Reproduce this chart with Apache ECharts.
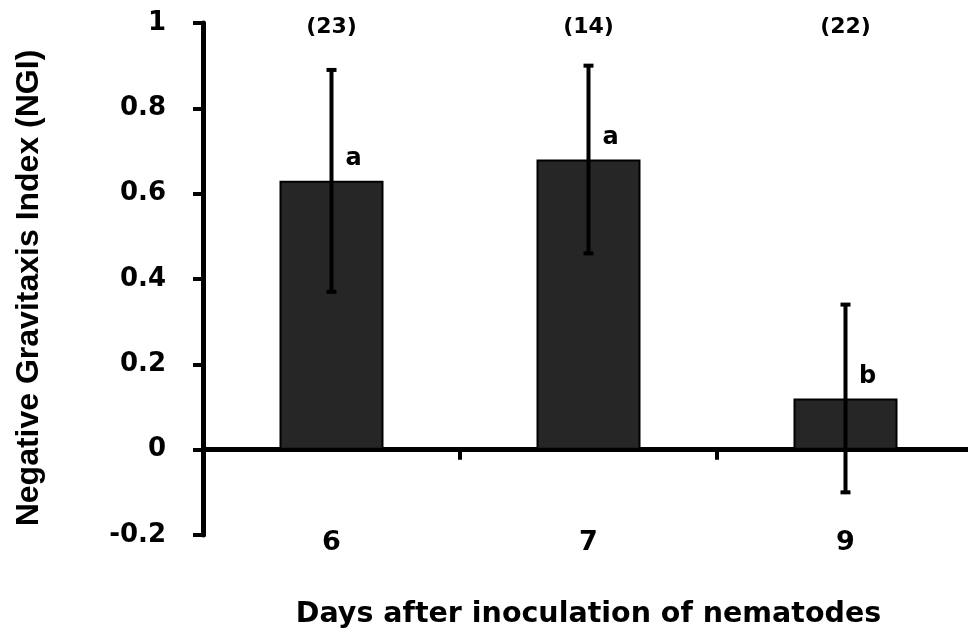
<!DOCTYPE html>
<html>
<head>
<meta charset="utf-8">
<title>Negative Gravitaxis Index</title>
<script src="https://cdn.jsdelivr.net/npm/echarts@6/dist/echarts.min.js"></script>
<style>
  html, body { margin: 0; padding: 0; background: #fff; }
  #chart { width: 968px; height: 636px; }
</style>
</head>
<body>
<div id="chart"></div>
<script>
// Days after inoculation (x categories)
const categories = ['6', '7', '9'];
// Mean NGI per day
const meanNGI = [0.63, 0.68, 0.12];
// Error half-widths per day
const errNGI = [0.26, 0.22, 0.22];
// Sample sizes shown above each bar
const sampleSizes = ['(23)', '(14)', '(22)'];
// Significance groups
const groupLetters = ['a', 'a', 'b'];
// Y axis range
const yMin = -0.2;
const yMax = 1;
const yStep = 0.2;

const numFont = 'DejaVu Sans';
const chart = echarts.init(document.getElementById('chart'), null, { renderer: 'canvas' });

const errorData = categories.map((c, i) => [i, meanNGI[i] + errNGI[i], meanNGI[i] - errNGI[i]]);
const topData = categories.map((c, i) => [i, yMax]);

function renderErrorBar(params, api) {
  const x = api.value(0);
  const hi = api.coord([x, api.value(1)]);
  const lo = api.coord([x, api.value(2)]);
  const cap = 5;
  const style = { stroke: '#000', lineWidth: 4 };
  return {
    type: 'group',
    children: [
      { type: 'line', shape: { x1: hi[0], y1: hi[1], x2: lo[0], y2: lo[1] }, style: style },
      { type: 'line', shape: { x1: hi[0] - cap, y1: hi[1], x2: hi[0] + cap, y2: hi[1] }, style: style },
      { type: 'line', shape: { x1: lo[0] - cap, y1: lo[1], x2: lo[0] + cap, y2: lo[1] }, style: style }
    ]
  };
}

chart.setOption({
  animation: false,
  backgroundColor: '#fff',
  grid: { left: 203, right: -6, top: 23, bottom: 101, containLabel: false, outerBoundsMode: 'none' },
  xAxis: {
    type: 'category',
    data: categories,
    name: 'Days after inoculation of nematodes',
    nameLocation: 'middle',
    nameGap: 65,
    nameTextStyle: { fontFamily: numFont, fontWeight: 'bold', fontSize: 28.5, color: '#000' },
    axisLine: { onZero: true, lineStyle: { color: '#000', width: 5 } },
    axisTick: { show: true, alignWithLabel: false, length: 10, lineStyle: { color: '#000', width: 4 } },
    axisLabel: { margin: -6, fontFamily: numFont, fontWeight: 'bold', fontSize: 27, color: '#000' },
    splitLine: { show: false }
  },
  yAxis: {
    type: 'value',
    min: yMin,
    max: yMax,
    interval: yStep,
    name: 'Negative Gravitaxis Index (NGI)',
    nameLocation: 'middle',
    nameRotate: 90,
    nameGap: 158,
    nameTextStyle: {
      fontFamily: 'Liberation Sans', fontWeight: 'bold', fontSize: 32, color: '#000',
      padding: [0, 18, 0, 0]
    },
    axisLine: { show: true, lineStyle: { color: '#000', width: 5 } },
    axisTick: { show: true, length: 10, lineStyle: { color: '#000', width: 4 } },
    axisLabel: {
      margin: 37, fontFamily: numFont, fontWeight: 'bold', fontSize: 26, color: '#000',
      formatter: v => String(Math.round(v * 10) / 10)
    },
    splitLine: { show: false }
  },
  series: [
    {
      type: 'bar',
      data: meanNGI,
      barWidth: 104,
      itemStyle: { color: '#262626', borderColor: '#000', borderWidth: 2 },
      label: {
        show: true,
        position: 'top',
        offset: [22, -5],
        formatter: p => groupLetters[p.dataIndex],
        fontFamily: numFont, fontWeight: 'bold', fontSize: 24, color: '#000'
      },
      z: 2
    },
    {
      type: 'custom',
      data: errorData,
      encode: { x: 0, y: [1, 2] },
      renderItem: renderErrorBar,
      z: 3
    },
    {
      type: 'scatter',
      data: topData,
      symbolSize: 1,
      clip: false,
      itemStyle: { color: 'rgba(0,0,0,0)' },
      label: {
        show: true,
        position: 'inside',
        offset: [0, 4],
        formatter: p => sampleSizes[p.dataIndex],
        fontFamily: numFont, fontWeight: 'bold', fontSize: 22, color: '#000',
        textBorderWidth: 0, opacity: 1
      },
      z: 4
    }
  ]
});
</script>
</body>
</html>
